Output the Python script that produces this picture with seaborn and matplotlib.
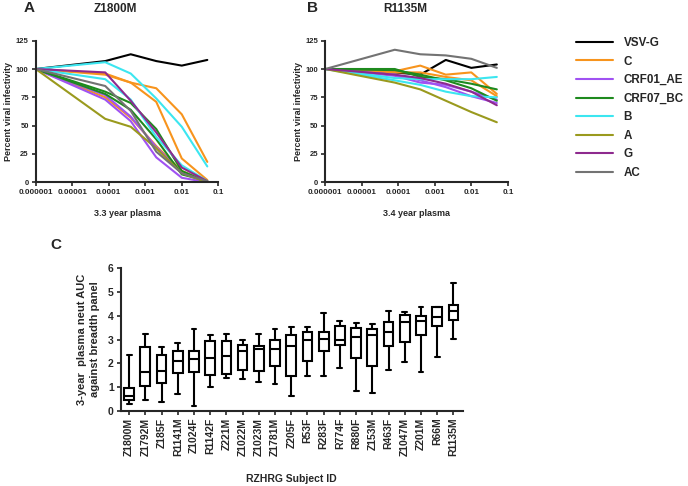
import matplotlib
matplotlib.use("Agg")
import matplotlib.pyplot as plt
import pandas as pd
import seaborn as sns
from matplotlib.ticker import NullLocator

# dilution series (plasma fraction), 1e-6 = no plasma control
plasma_fraction = [0.000001, 0.00008, 0.0004, 0.002, 0.01, 0.05]

subtype_order = ["VSV-G", "C", "CRF01_AE", "CRF07_BC", "B", "A", "G", "AC"]
subtype_colors = ["#000000", "#F7941D", "#A052F2", "#1E8A1E",
                  "#3CE6F0", "#9A9A1E", "#8E2A8E", "#737373"]

# panel A: Z1800M, 3.3 year plasma
z1800m_subtypes = ["VSV-G", "C", "C", "C", "CRF01_AE", "CRF01_AE",
                   "CRF07_BC", "CRF07_BC", "B", "B", "A", "G", "AC"]
z1800m_values = [
    [100, 107, 113, 107, 103, 108],
    [100, 96, 88, 83, 60, 18],
    [100, 95, 88, 71, 21, 2],
    [100, 75, 57, 32, 10, 1],
    [100, 73, 54, 22, 4, 0],
    [100, 77, 58, 31, 9, 1],
    [100, 80, 70, 47, 10, 0],
    [100, 78, 64, 38, 7, 1],
    [100, 106, 96, 74, 49, 14],
    [100, 91, 73, 40, 15, 1],
    [100, 56, 49, 30, 8, 0],
    [100, 97, 72, 44, 13, 1],
    [100, 85, 63, 27, 8, 1],
]

# panel B: R1135M, 3.4 year plasma
r1135m_subtypes = ["VSV-G", "C", "C", "CRF01_AE", "CRF01_AE",
                   "CRF07_BC", "CRF07_BC", "B", "B", "A", "G", "AC"]
r1135m_values = [
    [100, 97, 95, 108, 101, 104],
    [100, 98, 103, 95, 97, 78],
    [100, 97, 97, 93, 90, 76],
    [100, 94, 88, 86, 80, 73],
    [100, 95, 90, 84, 76, 70],
    [100, 100, 93, 91, 87, 82],
    [100, 99, 95, 90, 83, 72],
    [100, 90, 86, 80, 76, 75],
    [100, 92, 91, 91, 91, 93],
    [100, 88, 82, 72, 62, 53],
    [100, 95, 92, 87, 80, 68],
    [100, 117, 113, 112, 109, 101],
]

# panel C: five-number summaries per subject
subjects = ["Z1800M", "Z1792M", "Z185F", "R1141M", "Z1024F", "R1142F",
            "Z221M", "Z1022M", "Z1023M", "Z1781M", "Z205F", "R53F",
            "R283F", "R774F", "R880F", "Z153M", "R463F", "Z1047M",
            "Z201M", "R66M", "R1135M"]
auc_min = [0.28, 0.45, 0.36, 0.72, 0.20, 0.98, 1.38, 1.32, 1.20, 1.12, 0.62,
           1.48, 1.48, 1.80, 0.84, 0.73, 1.71, 2.05, 1.63, 2.28, 3.02]
auc_q1 = [0.45, 1.05, 1.18, 1.60, 1.62, 1.50, 1.54, 1.71, 1.69, 1.90, 1.46,
          2.09, 2.52, 2.75, 2.23, 1.88, 2.71, 2.91, 3.20, 3.59, 3.81]
auc_med = [0.60, 1.65, 1.68, 2.08, 2.17, 2.23, 2.32, 2.50, 2.60, 2.58, 2.72,
           3.00, 3.02, 3.00, 3.10, 3.19, 3.30, 3.72, 3.80, 3.95, 4.20]
auc_q3 = [0.95, 2.70, 2.33, 2.52, 2.52, 2.93, 2.92, 2.76, 2.73, 3.00, 3.19,
          3.33, 3.32, 3.56, 3.49, 3.45, 3.75, 4.05, 4.00, 4.36, 4.46]
auc_max = [2.35, 3.25, 2.67, 2.84, 3.45, 3.20, 3.23, 2.96, 3.24, 3.43, 3.54,
           3.52, 4.10, 3.77, 3.69, 3.66, 4.20, 4.16, 4.35, 4.38, 5.37]

x_tick_values = [0.000001, 0.00001, 0.0001, 0.001, 0.01, 0.1]
x_tick_labels = ["0.000001", "0.00001", "0.0001", "0.001", "0.01", "0.1"]


def curves_frame(subtypes, values):
    rows = []
    for i, (subtype, series) in enumerate(zip(subtypes, values)):
        for frac, val in zip(plasma_fraction, series):
            rows.append({"virus": i, "subtype": subtype,
                         "fraction": frac, "infectivity": val})
    return pd.DataFrame(rows)


def plot_curves(ax, subtypes, values, xlabel, legend=False):
    df = curves_frame(subtypes, values)
    sns.lineplot(
        data=df, x="fraction", y="infectivity", hue="subtype",
        hue_order=subtype_order, palette=dict(zip(subtype_order, subtype_colors)),
        units="virus", estimator=None, sort=False, linewidth=1.5,
        legend=legend, ax=ax,
    )
    ax.set_xscale("log")
    ax.set_xlim(0.000001, 0.1)
    ax.set_ylim(0, 125)
    ax.set_xticks(x_tick_values)
    ax.set_xticklabels(x_tick_labels)
    ax.xaxis.set_minor_locator(NullLocator())
    ax.set_yticks([0, 25, 50, 75, 100, 125])
    ax.tick_params(axis="x", labelsize=5.8, length=3, width=1.2, pad=2)
    ax.tick_params(axis="y", labelsize=5.5, length=3, width=1.2, pad=2)
    ax.set_xlabel(xlabel, fontsize=6.5, labelpad=9)
    ax.set_ylabel("Percent viral infectivity", fontsize=6.5, labelpad=2)
    for side in ["left", "bottom"]:
        ax.spines[side].set_linewidth(1.5)
    sns.despine(ax=ax)


def plot_boxes(ax):
    rows = []
    for i, s in enumerate(subjects):
        for v in [auc_min[i], auc_q1[i], auc_med[i], auc_q3[i], auc_max[i]]:
            rows.append({"subject": s, "auc": v})
    df = pd.DataFrame(rows)
    sns.boxplot(
        data=df, x="subject", y="auc", order=subjects, whis=(0, 100),
        width=0.6, color="white", linecolor="black", linewidth=1.5,
        fliersize=0, ax=ax,
    )
    ax.set_xlim(-0.52, len(subjects) - 1 + 0.57)
    ax.set_ylim(0, 6)
    ax.set_yticks(range(7))
    ax.tick_params(axis="x", rotation=90, labelsize=7.5, length=3, width=1.2, pad=2)
    ax.tick_params(axis="y", labelsize=7.5, length=3, width=1.2, pad=2)
    ax.set_xlabel("RZHRG Subject ID", fontsize=7.5, labelpad=13)
    ax.set_ylabel("3-year  plasma neut AUC\nagainst breadth panel",
                  fontsize=8, linespacing=1.3, labelpad=6)
    for side in ["left", "bottom"]:
        ax.spines[side].set_linewidth(1.5)
    sns.despine(ax=ax)


def main():
    sns.set_style("ticks")
    plt.rcParams["font.family"] = ["Liberation Sans", "DejaVu Sans"]
    plt.rcParams["font.weight"] = "bold"
    plt.rcParams["axes.labelweight"] = "bold"
    plt.rcParams["axes.titleweight"] = "bold"

    fig = plt.figure(figsize=(6.88, 4.86), dpi=100)
    ax_a = fig.add_axes([0.0519, 0.6249, 0.2654, 0.2914])
    ax_b = fig.add_axes([0.4728, 0.6249, 0.2653, 0.2914])
    ax_c = fig.add_axes([0.1754, 0.1549, 0.4971, 0.2930])

    plot_curves(ax_a, z1800m_subtypes, z1800m_values, "3.3 year plasma")
    plot_curves(ax_b, r1135m_subtypes, r1135m_values, "3.4 year plasma",
                legend=True)
    plot_boxes(ax_c)

    handles, labels = ax_b.get_legend_handles_labels()
    ax_b.legend(
        handles, labels, loc="upper left",
        bbox_to_anchor=(575.7 / 688, 1 - 37 / 486), bbox_transform=fig.transFigure,
        frameon=False, fontsize=8.4, handlelength=3.2, handletextpad=0.9,
        labelspacing=0.56, borderpad=0, borderaxespad=0,
    )

    # panel titles and letters
    fig.text(115 / 688, 1 - 9 / 486, "Z1800M", fontsize=8.5, ha="center", va="center")
    fig.text(405 / 688, 1 - 9 / 486, "R1135M", fontsize=8.5, ha="center", va="center")
    fig.text(24 / 688, 1 - 8 / 486, "A", fontsize=11, ha="left", va="center")
    fig.text(307 / 688, 1 - 8 / 486, "B", fontsize=11, ha="left", va="center")
    fig.text(50 / 688, 1 - 245 / 486, "C", fontsize=11, ha="left", va="center")

    fig.savefig("out.png", dpi=100)


if __name__ == "__main__":
    main()
